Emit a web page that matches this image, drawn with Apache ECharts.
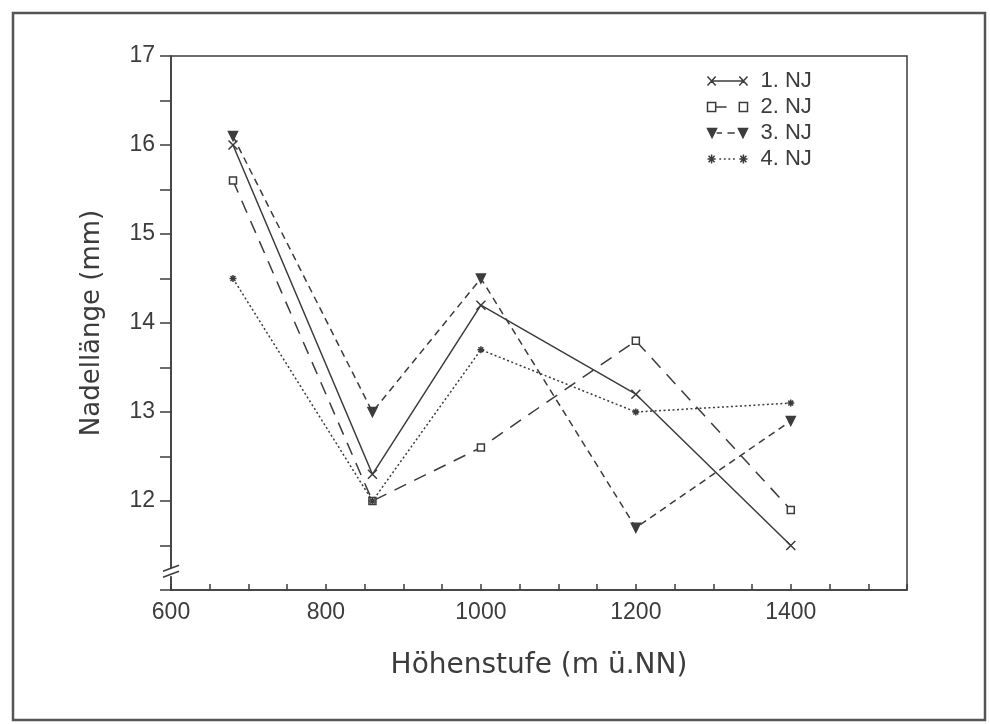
<!DOCTYPE html>
<html>
<head>
<meta charset="utf-8">
<script src="https://cdn.jsdelivr.net/npm/echarts@6/dist/echarts.min.js"></script>
<style>html,body{margin:0;padding:0;background:#fff}#c{width:990px;height:724px}</style>
</head>
<body>
<div id="c"></div>
<script>
// ---- data ----
var altitudes = [680, 860, 1000, 1200, 1400];
var seriesNames = ['1. NJ', '2. NJ', '3. NJ', '4. NJ'];
var nj1 = [16.0, 12.3, 14.2, 13.2, 11.5];
var nj2 = [15.6, 12.0, 12.6, 13.8, 11.9];
var nj3 = [16.1, 13.0, 14.5, 11.7, 12.9];
var nj4 = [14.5, 12.0, 13.7, 13.0, 13.1];
var xTickLabels = [600, 800, 1000, 1200, 1400];
var yTickLabels = [12, 13, 14, 15, 16, 17];

var ink = '#3c3c3c';
var font = 'Liberation Sans';
var titleFont = 'DejaVu Sans';

function pairs(vals) { return altitudes.map(function (a, i) { return [a, vals[i]]; }); }

var symCross = 'path://M0,0L10,10M10,0L0,10';
var symSquare = 'rect';
var symTri = 'path://M0,0L10,0L5,9Z';
var symStar = 'path://M5,0L5,10M0,5L10,5M1.5,1.5L8.5,8.5M8.5,1.5L1.5,8.5';

var styles = [
  { sym: symCross, size: 9, type: 'solid', fill: 'none',
    icon: 'path://M0,0L9,9M9,0L0,9M4.5,4.5L39.5,4.5M35,0L44,9M44,0L35,9' },
  { sym: symSquare, size: 7, type: [13, 9], fill: '#fff',
    icon: 'path://M0,0L9,0L9,9L0,9ZM9,4.5L21,4.5M35,0L44,0L44,9L35,9Z' },
  { sym: symTri, size: 9, type: [7, 5], fill: ink,
    icon: 'path://M0,0L10,0L5,9ZM10,4.5L16,4.5M22,4.5L30,4.5M34,0L44,0L39,9Z' },
  { sym: symStar, size: 7, type: [2, 2.5], fill: ink,
    icon: 'path://M4.5,0L4.5,9M0,4.5L9,4.5M1.2,1.2L7.8,7.8M7.8,1.2L1.2,7.8M13,4.5L15,4.5M18,4.5L20,4.5M23,4.5L25,4.5M28,4.5L30,4.5M39.5,0L39.5,9M35,4.5L44,4.5M36.2,1.2L42.8,7.8M42.8,1.2L36.2,7.8' }
];
var dataSets = [nj1, nj2, nj3, nj4];

var series = dataSets.map(function (d, i) {
  var s = styles[i];
  return {
    name: seriesNames[i],
    type: 'line',
    data: pairs(d),
    symbol: s.sym,
    symbolSize: s.size,
    showAllSymbol: true,
    lineStyle: { color: ink, width: 1.5, type: s.type },
    itemStyle: { color: s.fill, borderColor: ink, borderWidth: 1.5 },
    emphasis: { disabled: true },
    z: 3
  };
});

var legendData = seriesNames.map(function (n, i) {
  return { name: n, icon: styles[i].icon, itemStyle: { color: styles[i].fill, borderColor: ink, borderWidth: 1.5 } };
});

var chart = echarts.init(document.getElementById('c'));
chart.setOption({
  animation: false,
  backgroundColor: '#fff',
  textStyle: { fontFamily: font, color: ink },
  grid: { left: 171, right: 83, top: 56, bottom: 134, show: true, borderColor: ink, borderWidth: 1.5, backgroundColor: 'transparent' },
  legend: {
    orient: 'vertical',
    left: 700,
    top: 65,
    itemWidth: 40,
    itemHeight: 9,
    itemGap: 4,
    symbolKeepAspect: false,
    textStyle: { fontFamily: font, fontSize: 22, color: ink, lineHeight: 22, padding: [0, 0, 0, 8] },
    data: legendData
  },
  xAxis: {
    type: 'value',
    min: 600,
    max: 1550,
    interval: 50,
    name: 'Höhenstufe (m ü.NN)',
    nameLocation: 'middle',
    nameGap: 62,
    nameTextStyle: { fontFamily: titleFont, fontSize: 28, color: ink },
    axisLine: { show: true, lineStyle: { color: ink, width: 1.5 } },
    axisTick: { show: true, inside: true, length: 6, lineStyle: { color: ink, width: 1.5 } },
    axisLabel: {
      fontFamily: font, fontSize: 23, color: ink, margin: 11,
      formatter: function (v) { return xTickLabels.indexOf(v) >= 0 ? String(v) : ''; }
    },
    splitLine: { show: false }
  },
  yAxis: {
    type: 'value',
    min: 11,
    max: 17,
    interval: 0.5,
    name: 'Nadellänge (mm)',
    nameLocation: 'middle',
    nameGap: 66,
    nameRotate: 90,
    nameTextStyle: { fontFamily: titleFont, fontSize: 26, color: ink },
    axisLine: { show: true, lineStyle: { color: ink, width: 1.5 } },
    axisTick: { show: true, inside: false, length: 11, lineStyle: { color: ink, width: 1.5 } },
    axisLabel: {
      fontFamily: font, fontSize: 23, color: ink, margin: 16,
      formatter: function (v) { return yTickLabels.indexOf(v) >= 0 ? String(v) : ''; }
    },
    splitLine: { show: false }
  },
  series: series
});

// axis break mark and outer frame
var p = chart.convertToPixel({ gridIndex: 0 }, [600, 11.2]);
chart.setOption({
  graphic: [
    { type: 'rect', shape: { x: 13, y: 13, width: 972, height: 707 }, style: { fill: 'none', stroke: '#555', lineWidth: 2.5 }, silent: true },
    { type: 'rect', shape: { x: p[0] - 3, y: p[1] - 4, width: 6, height: 8 }, style: { fill: '#fff' }, z: 100 },
    { type: 'line', shape: { x1: p[0] - 8, y1: p[1] - 1, x2: p[0] + 8, y2: p[1] - 7 }, style: { stroke: ink, lineWidth: 1.5 }, z: 101 },
    { type: 'line', shape: { x1: p[0] - 8, y1: p[1] + 5, x2: p[0] + 8, y2: p[1] - 1 }, style: { stroke: ink, lineWidth: 1.5 }, z: 101 }
  ]
});
</script>
</body>
</html>
